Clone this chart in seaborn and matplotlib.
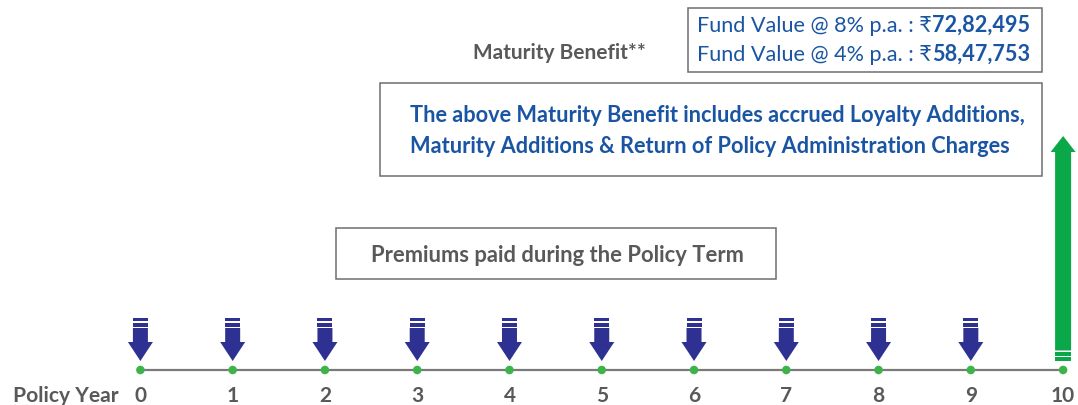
import numpy as np
import pandas as pd
import seaborn as sns
import matplotlib.pyplot as plt
from matplotlib.patches import Rectangle

# chart data
years = list(range(0, 11))
premium_years = list(range(0, 10))
maturity_year = 10
fund_rates = ["8%", "4%"]
fund_values = ["72,82,495", "58,47,753"]
benefit_label = "Maturity Benefit**"
note_lines = ["The above Maturity Benefit includes accrued Loyalty Additions,",
              "Maturity Additions & Return of Policy Administration Charges"]
premium_label = "Premiums paid during the Policy Term"

# colours
BLUE_ARROW = "#2e3192"
GREEN = "#0ba84a"
DOT = "#3db449"
TEXT_BLUE = "#1a55a3"
GREY = "#58595b"
EDGE = "#6d6e70"

sns.set_theme(style="white")
plt.rcParams["font.family"] = ["Lato", "DejaVu Sans"]

W, H = 1078, 406
fig = plt.figure(figsize=(W / 100, H / 100), dpi=100)

# timeline axes: x in policy years, y in pixels from the top
PX = 92.27         # pixels per year
X0 = 140.4         # pixel of year 0
ax = fig.add_axes([0, 0, 1, 1])
ax.set_xlim(-X0 / PX, (W - X0) / PX)
ax.set_ylim(H, 0)
ax.axis("off")

LINE_Y = 371
df = pd.DataFrame({"year": years, "y": [LINE_Y] * len(years)})
sns.lineplot(data=df, x="year", y="y", color="#7a7a7a", lw=1.6, ax=ax, zorder=1)
sns.scatterplot(data=df, x="year", y="y", color=DOT, s=38, edgecolor="none", ax=ax, zorder=3)

for yr in years:
    ax.text(yr, 394, str(yr), ha="center", va="center_baseline", fontsize=15,
            fontweight="bold", color=GREY)


def down_arrow(x, color):
    s = 7.5 / PX
    h = 12.5 / PX
    for top, bot in [(318.5, 322), (323.5, 327.5)]:
        ax.fill([x - s, x + s, x + s, x - s], [top, top, bot, bot], color=color, lw=0)
    ax.fill([x - s, x + s, x + s, x + h, x, x - h, x - s],
            [329, 329, 343, 343, 362, 343, 343], color=color, lw=0)


def up_arrow(x, color):
    s = 8 / PX
    h = 12.5 / PX
    for top, bot in [(353, 356.5), (358, 361.5)]:
        ax.fill([x - s, x + s, x + s, x - s], [top, top, bot, bot], color=color, lw=0)
    ax.fill([x - s, x + s, x + s, x + h, x, x - h, x - s],
            [351.5, 351.5, 153, 153, 137, 153, 153], color=color, lw=0)


for yr in premium_years:
    down_arrow(yr, BLUE_ARROW)
up_arrow(maturity_year, GREEN)

# overlay axes in pixel coordinates for boxes and captions
ov = fig.add_axes([0, 0, 1, 1])
ov.set_xlim(0, W)
ov.set_ylim(H, 0)
ov.axis("off")
ov.patch.set_alpha(0)

renderer = fig.canvas.get_renderer()


def fit(t, width_px):
    w = t.get_window_extent(renderer).width
    t.set_fontsize(t.get_fontsize() * width_px / w)
    return t.get_fontsize()


t = ov.text(13, 394, "Policy Year", ha="left", va="center_baseline", fontsize=13,
            fontweight="bold", color=GREY)
fit(t, 105)

t = ov.text(559, 51, benefit_label, ha="center", va="center_baseline", fontsize=12,
            fontweight="bold", color=GREY)
fit(t, 172)

# fund value box
ov.add_patch(Rectangle((688, 8.5), 354, 64.5, fill=False, ec=EDGE, lw=1.1))
size = None
for i, (rate, val) in enumerate(zip(fund_rates, fund_values)):
    t = ov.text(697, 24 + 29 * i, f"Fund Value @ {rate} p.a. : \u20b9", ha="left",
                va="center_baseline", fontsize=size or 12, color=TEXT_BLUE)
    if size is None:
        size = fit(t, 234)
    ov.annotate(val, xy=(1, 0), xycoords=t, ha="left", va="bottom",
                fontsize=size, fontweight="bold", color=TEXT_BLUE)

# note box
ov.add_patch(Rectangle((380, 84), 662, 93, fill=False, ec=EDGE, lw=1.1))
t = ov.text(410, 114, note_lines[0], ha="left", va="center_baseline", fontsize=13,
            fontweight="bold", color=TEXT_BLUE)
nsize = fit(t, 615)
ov.text(410, 145, note_lines[1], ha="left", va="center_baseline", fontsize=nsize,
        fontweight="bold", color=TEXT_BLUE)

# premium box
ov.add_patch(Rectangle((336, 229), 440, 51, fill=False, ec=EDGE, lw=1.1))
t = ov.text(557, 254, premium_label, ha="center", va="center_baseline", fontsize=13,
            fontweight="bold", color=GREY)
fit(t, 373)

fig.savefig("out.png", dpi=100)
